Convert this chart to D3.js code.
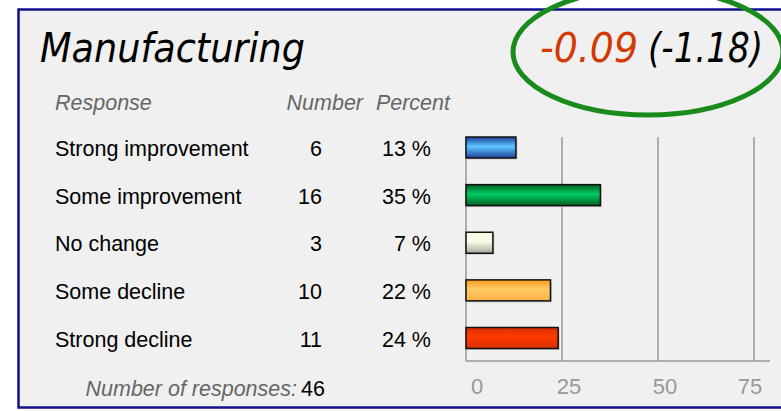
<!DOCTYPE html>
<html>
<head>
<meta charset="utf-8">
<script src="https://cdn.jsdelivr.net/npm/d3@7"></script>
<style>
body{margin:0;background:#fff;}
svg{display:block;}
</style>
</head>
<body>
<div id="chart"></div>
<script>
// data
var responses = ["Strong improvement","Some improvement","No change","Some decline","Strong decline"];
var counts = [6,16,3,10,11];
var percents = [13,35,7,22,24];
var ticks = [0,25,50,75];
var totalResponses = 46;
var title = "Manufacturing";
var score = "-0.09", scoreZ = "(-1.18)";

var width = 781,
    height = 411;

// gradient stops per bar [edge, middle, edge]
var fills = [
    ["#1f3f9a","#5cc8ff","#1f3f9a"],
    ["#005f1e","#00cc66","#005f1e"],
    ["#f6fbe6","#f8fce6","#a8a89c"],
    ["#ff9a20","#ffcc66","#ffb040"],
    ["#d83000","#ff3a00","#d83000"]
];

var svg = d3.select("#chart").append("svg")
    .attr("width", width)
    .attr("height", height);

var defs = svg.append("defs");
fills.forEach(function(f,i){
    var g = defs.append("linearGradient")
        .attr("id","grad"+i)
        .attr("x1",0).attr("y1",0).attr("x2",0).attr("y2",1);
    g.append("stop").attr("offset","0%").attr("stop-color",f[0]);
    g.append("stop").attr("offset","45%").attr("stop-color",f[1]);
    g.append("stop").attr("offset","100%").attr("stop-color",f[2]);
});

// panel
svg.append("rect")
    .attr("x",18.5)
    .attr("y",9.5)
    .attr("width",800)
    .attr("height",398)
    .attr("fill","#f0f0f0")
    .attr("stroke","#10108c")
    .attr("stroke-width",2.5);

var x = d3.scaleLinear().domain([0,75]).range([466,754]);
var y = d3.scalePoint().domain(responses).range([147.5,338]);
var barH = 21;
var font = "Liberation Sans, Arial, sans-serif";
var fs = "21.5px";

// grid lines
svg.append("g").selectAll("line")
    .data(ticks)
  .enter().append("line")
    .attr("x1",function(d){return x(d);})
    .attr("x2",function(d){return x(d);})
    .attr("y1",137)
    .attr("y2",361)
    .attr("stroke","#999")
    .attr("stroke-width",1.5);

// axis line
svg.append("line")
    .attr("x1",x(0))
    .attr("x2",770)
    .attr("y1",361)
    .attr("y2",361)
    .attr("stroke","#999")
    .attr("stroke-width",1.5);

// tick labels
svg.append("g").selectAll("text")
    .data(ticks)
  .enter().append("text")
    .attr("x",function(d){return x(d)+(d==0?11:d==75?-4:7);})
    .attr("y",394)
    .attr("text-anchor","middle")
    .attr("font-family",font)
    .attr("font-size","22px")
    .attr("fill","#999")
    .text(function(d){return d;});

// bars: shadow then bar
var rows = svg.append("g").selectAll("g")
    .data(responses)
  .enter().append("g");

rows.append("rect")
    .attr("x",x(0)+1.5)
    .attr("y",function(d){return y(d)-barH/2+1.5;})
    .attr("width",function(d,i){return x(percents[i])-x(0);})
    .attr("height",barH)
    .attr("fill","#c8c8c8");

rows.append("rect")
    .attr("x",x(0))
    .attr("y",function(d){return y(d)-barH/2;})
    .attr("width",function(d,i){return x(percents[i])-x(0);})
    .attr("height",barH)
    .attr("fill",function(d,i){return "url(#grad"+i+")";})
    .attr("stroke","#111")
    .attr("stroke-width",1.5);

rows.append("text")
    .attr("x",55)
    .attr("y",function(d){return y(d)+8.5;})
    .attr("font-family",font)
    .attr("font-size",fs)
    .attr("fill","#000")
    .text(function(d){return d;});

rows.append("text")
    .attr("x",322)
    .attr("y",function(d){return y(d)+8.5;})
    .attr("text-anchor","end")
    .attr("font-family",font)
    .attr("font-size",fs)
    .text(function(d,i){return counts[i];});

rows.append("text")
    .attr("x",431)
    .attr("y",function(d){return y(d)+8.5;})
    .attr("text-anchor","end")
    .attr("font-family",font)
    .attr("font-size",fs)
    .text(function(d,i){return percents[i]+" %";});

// header
var head = svg.append("g")
    .attr("font-family",font)
    .attr("font-size",fs)
    .attr("font-style","italic")
    .attr("fill","#666");
head.append("text").attr("x",55).attr("y",110).text("Response");
head.append("text").attr("x",363).attr("y",110).attr("text-anchor","end").text("Number");
head.append("text").attr("x",450).attr("y",110).attr("text-anchor","end").text("Percent");

// footer
svg.append("text")
    .attr("x",297)
    .attr("y",396)
    .attr("text-anchor","end")
    .attr("font-family",font)
    .attr("font-size",fs)
    .attr("font-style","italic")
    .attr("fill","#666")
    .text("Number of responses:");
svg.append("text")
    .attr("x",301)
    .attr("y",396)
    .attr("font-family",font)
    .attr("font-size",fs)
    .attr("fill","#000")
    .text(totalResponses);

// title + score
svg.append("text")
    .attr("x",40)
    .attr("y",62)
    .attr("font-family","DejaVu Sans, sans-serif")
    .attr("font-size","41px")
    .attr("font-style","italic")
    .attr("textLength",265)
    .attr("lengthAdjust","spacingAndGlyphs")
    .text(title);

svg.append("text")
    .attr("x",540)
    .attr("y",62)
    .attr("font-family","DejaVu Sans, sans-serif")
    .attr("font-size","41px")
    .attr("font-style","italic")
    .attr("fill","#d43a00")
    .attr("textLength",98)
    .attr("lengthAdjust","spacingAndGlyphs")
    .text(score);

svg.append("text")
    .attr("x",648)
    .attr("y",62)
    .attr("font-family","DejaVu Sans, sans-serif")
    .attr("font-size","41px")
    .attr("font-style","italic")
    .attr("fill","#000")
    .attr("textLength",115)
    .attr("lengthAdjust","spacingAndGlyphs")
    .text(scoreZ);

// ellipse round the score
svg.append("ellipse")
    .attr("cx",648)
    .attr("cy",52)
    .attr("rx",135)
    .attr("ry",63)
    .attr("fill","none")
    .attr("stroke","#1a8a1a")
    .attr("stroke-width",5);
</script>
</body>
</html>
